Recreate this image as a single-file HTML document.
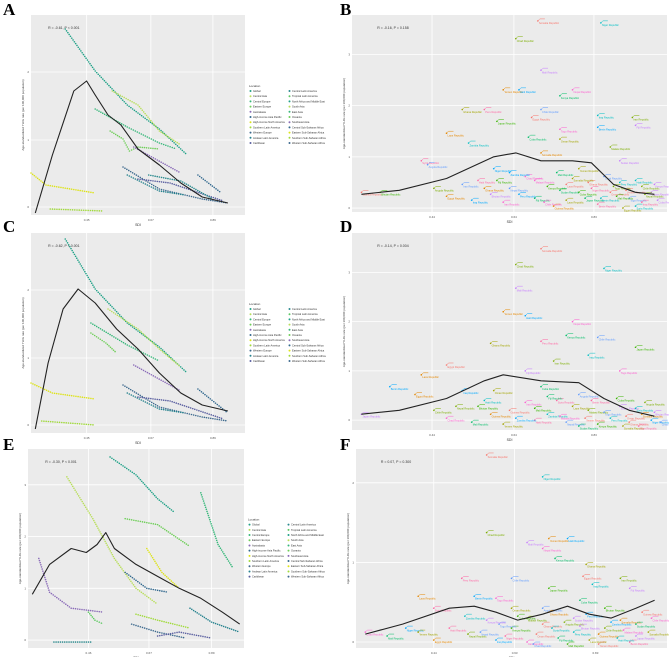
<!DOCTYPE html>
<html><head><meta charset="utf-8">
<style>
html,body{margin:0;padding:0;background:#fff;width:669px;height:657px;overflow:hidden}
svg{display:block;font-family:"Liberation Sans",sans-serif}
.pl{font-family:"Liberation Serif",serif;font-weight:bold;font-size:17px}
</style></head>
<body>
<svg id="fig" width="669" height="657" viewBox="0 0 669 657" xmlns="http://www.w3.org/2000/svg">
<text class="pl" x="3" y="15">A</text>
<text class="pl" x="340" y="15">B</text>
<text class="pl" x="3" y="232">C</text>
<text class="pl" x="340" y="232">D</text>
<text class="pl" x="3" y="450">E</text>
<text class="pl" x="340" y="450">F</text>
</svg>
<script>
// ---- data (x = SDI fraction of axis, y = rate fraction of axis) ----
const seriesA = [
 [[0.16,0.93],[0.3,0.72],[0.45,0.55],[0.6,0.43],[0.73,0.3]],
 [[0.38,0.62],[0.5,0.55],[0.6,0.42],[0.7,0.35]],
 [[0.3,0.53],[0.45,0.44],[0.6,0.36],[0.68,0.33]],
 [[0.37,0.42],[0.43,0.38],[0.46,0.32],[0.5,0.34],[0.6,0.33]],
 [[0.48,0.34],[0.7,0.21]],
 [[0.78,0.2],[0.89,0.11]],
 [[0.0,0.21],[0.07,0.15],[0.3,0.11]],
 [[0.09,0.03],[0.34,0.02]],
 [[0.43,0.24],[0.6,0.13],[0.8,0.08],[0.92,0.06]],
 [[0.45,0.2],[0.6,0.12],[0.72,0.1]],
 [[0.5,0.18],[0.65,0.16],[0.9,0.07]],
 [[0.55,0.2],[0.7,0.17],[0.85,0.08]]
];
const curveA = [[0.02,0.01],[0.1,0.3],[0.2,0.62],[0.26,0.67],[0.3,0.6],[0.36,0.5],[0.42,0.45],[0.5,0.33],[0.6,0.25],[0.7,0.16],[0.8,0.09],[0.92,0.06]];
const seriesC = [
 [[0.16,0.97],[0.3,0.72],[0.45,0.55],[0.6,0.43],[0.73,0.3]],
 [[0.36,0.62],[0.5,0.52],[0.6,0.42],[0.7,0.33]],
 [[0.28,0.55],[0.45,0.44],[0.6,0.36]],
 [[0.28,0.5],[0.35,0.45],[0.4,0.4]],
 [[0.48,0.34],[0.7,0.21]],
 [[0.78,0.22],[0.92,0.1]],
 [[0.0,0.25],[0.1,0.2],[0.3,0.17]],
 [[0.05,0.06],[0.3,0.04]],
 [[0.43,0.24],[0.6,0.13],[0.8,0.08],[0.92,0.06]],
 [[0.45,0.2],[0.6,0.12],[0.72,0.1]],
 [[0.5,0.18],[0.65,0.16],[0.9,0.07]]
];
const curveC = [[0.02,0.02],[0.08,0.35],[0.15,0.62],[0.22,0.72],[0.3,0.65],[0.4,0.52],[0.5,0.42],[0.6,0.3],[0.7,0.2],[0.8,0.14],[0.92,0.11]];
const seriesE = [
 [[0.38,0.96],[0.5,0.87],[0.6,0.75],[0.68,0.68]],
 [[0.18,0.86],[0.3,0.65],[0.4,0.45],[0.5,0.3],[0.6,0.22]],
 [[0.8,0.78],[0.88,0.52],[0.95,0.4]],
 [[0.45,0.65],[0.6,0.62],[0.75,0.51]],
 [[0.05,0.45],[0.1,0.28],[0.2,0.2],[0.35,0.18]],
 [[0.45,0.38],[0.55,0.3],[0.65,0.28]],
 [[0.55,0.5],[0.62,0.38],[0.7,0.3]],
 [[0.5,0.17],[0.6,0.14],[0.75,0.1]],
 [[0.48,0.12],[0.6,0.08],[0.73,0.05]],
 [[0.75,0.2],[0.85,0.13],[0.98,0.08]],
 [[0.6,0.06],[0.7,0.08],[0.85,0.05]],
 [[0.12,0.03],[0.3,0.03]],
 [[0.28,0.18],[0.31,0.14],[0.35,0.12]]
];
const curveE = [[0.02,0.27],[0.1,0.42],[0.2,0.5],[0.27,0.48],[0.32,0.52],[0.36,0.58],[0.4,0.5],[0.5,0.42],[0.6,0.36],[0.7,0.3],[0.8,0.25],[0.9,0.18],[0.98,0.12]];

const ptsB = [[0.59,0.97],[0.79,0.96],[0.52,0.88],[0.6,0.72],[0.48,0.62],[0.53,0.62],[0.7,0.62],[0.66,0.59],[0.35,0.52],[0.42,0.52],[0.6,0.52],[0.46,0.46],[0.57,0.48],[0.78,0.49],[0.89,0.48],[0.9,0.44],[0.3,0.4],[0.78,0.43],[0.66,0.42],[0.56,0.38],[0.66,0.37],[0.22,0.26],[0.24,0.24],[0.09,0.1],[0.03,0.1],[0.37,0.35],[0.82,0.33],[0.85,0.26],[0.6,0.3],[0.45,0.22],[0.55,0.18],[0.65,0.2],[0.72,0.22],[0.4,0.16],[0.5,0.12],[0.62,0.13],[0.75,0.15],[0.85,0.15],[0.92,0.13],[0.95,0.1],[0.3,0.08],[0.38,0.06],[0.48,0.05],[0.58,0.07],[0.68,0.06],[0.78,0.04],[0.88,0.07],[0.72,0.1],[0.82,0.1],[0.9,0.03],[0.26,0.12],[0.44,0.09],[0.64,0.03],
 [0.5,0.2],[0.58,0.16],[0.66,0.11],[0.7,0.17],[0.76,0.12],[0.8,0.18],[0.84,0.08],[0.87,0.11],[0.9,0.16],[0.93,0.09],[0.96,0.14],[0.42,0.12],[0.53,0.09],[0.61,0.05],[0.74,0.07],[0.86,0.02],[0.92,0.05],[0.35,0.14],[0.46,0.16],[0.68,0.14],[0.79,0.07],[0.83,0.13],[0.97,0.06]];
const curveB = [[0.03,0.09],[0.15,0.11],[0.3,0.17],[0.45,0.28],[0.52,0.3],[0.6,0.26],[0.7,0.26],[0.76,0.25],[0.83,0.14],[0.9,0.1],[0.96,0.09]];
const ptsD = [[0.6,0.92],[0.8,0.82],[0.52,0.84],[0.52,0.72],[0.48,0.6],[0.55,0.58],[0.7,0.55],[0.68,0.48],[0.44,0.44],[0.6,0.45],[0.78,0.47],[0.9,0.42],[0.3,0.33],[0.75,0.38],[0.64,0.35],[0.55,0.3],[0.22,0.28],[0.12,0.22],[0.85,0.3],[0.6,0.22],[0.45,0.2],[0.65,0.15],[0.72,0.18],[0.4,0.12],[0.5,0.1],[0.62,0.08],[0.75,0.1],[0.85,0.12],[0.92,0.08],[0.95,0.05],[0.3,0.06],[0.38,0.04],[0.48,0.03],[0.58,0.05],[0.68,0.04],[0.78,0.03],[0.88,0.04],[0.82,0.06],[0.26,0.1],[0.03,0.08],[0.2,0.18],[0.35,0.2],
 [0.55,0.14],[0.62,0.17],[0.7,0.12],[0.76,0.15],[0.8,0.09],[0.84,0.16],[0.87,0.07],[0.9,0.11],[0.93,0.14],[0.96,0.09],[0.44,0.08],[0.52,0.06],[0.66,0.07],[0.72,0.02],[0.86,0.02],[0.91,0.02],[0.98,0.04],[0.58,0.11],[0.74,0.06],[0.42,0.15],[0.33,0.12]];
const curveD = [[0.03,0.08],[0.15,0.1],[0.3,0.16],[0.42,0.25],[0.48,0.28],[0.6,0.25],[0.72,0.24],[0.8,0.16],[0.88,0.1],[0.96,0.07]];
const ptsF = [[0.42,0.97],[0.6,0.86],[0.42,0.58],[0.55,0.53],[0.62,0.55],[0.68,0.55],[0.6,0.5],[0.64,0.45],[0.74,0.42],[0.34,0.35],[0.5,0.35],[0.62,0.3],[0.73,0.36],[0.76,0.32],[0.85,0.35],[0.88,0.3],[0.2,0.26],[0.38,0.26],[0.45,0.25],[0.72,0.24],[0.5,0.2],[0.25,0.2],[0.6,0.2],[0.8,0.2],[0.92,0.18],[0.35,0.16],[0.55,0.15],[0.7,0.15],[0.85,0.14],[0.16,0.1],[0.03,0.08],[0.1,0.06],[0.2,0.08],[0.3,0.1],[0.4,0.08],[0.5,0.1],[0.6,0.12],[0.7,0.08],[0.8,0.1],[0.9,0.06],[0.25,0.04],[0.45,0.04],[0.55,0.03],[0.65,0.05],[0.75,0.04],[0.88,0.03],
 [0.46,0.12],[0.52,0.16],[0.58,0.07],[0.63,0.1],[0.67,0.13],[0.72,0.11],[0.78,0.07],[0.82,0.13],[0.86,0.09],[0.9,0.12],[0.94,0.08],[0.48,0.06],[0.57,0.02],[0.68,0.02],[0.78,0.02],[0.84,0.05],[0.36,0.07],[0.42,0.14],[0.62,0.18],[0.74,0.17],[0.95,0.15]];
const curveF = [[0.03,0.07],[0.15,0.12],[0.3,0.2],[0.38,0.21],[0.45,0.18],[0.52,0.14],[0.6,0.17],[0.68,0.21],[0.75,0.17],[0.82,0.15],[0.9,0.2],[0.96,0.24]];

const locLeft = ["Global","Central Asia","Central Europe","Eastern Europe","Australasia","High-income Asia Pacific","High-income North America","Southern Latin America","Western Europe","Andean Latin America","Caribbean"];
const locRight = ["Central Latin America","Tropical Latin America","North Africa and Middle East","South Asia","East Asia","Oceania","Southeast Asia","Central Sub-Saharan Africa","Eastern Sub-Saharan Africa","Southern Sub-Saharan Africa","Western Sub-Saharan Africa"];
const countryNames = ["Somalia","Niger","Chad","Mali","Yemen","Haiti","Nepal","Kenya","Ghana","Peru","Chile","Japan","Egypt","Iraq","Iran","Fiji","Laos","Benin","Togo","Cuba","Oman","Syria","Angola","Bhutan","Guinea","Zambia","Malawi","Sudan"];
const leftStats = {a:"R = -0.61, P < 0.001", c:"R = -0.62, P < 0.001", e:"R = -0.30, P < 0.001"};
const rightStats = {b:"R = -0.16, P = 0.158", d:"R = -0.14, P = 0.004", f:"R = 0.07, P = 0.300"};

const viridis = ["#1fa187","#b8de5a","#35b779","#6ece58","#8a6bb8","#31688e","#dde318","#a0da39","#3e6a8e","#26828e","#5a5fa0","#2a8a8e","#5ec962"];
const hue = ["#f8766d","#00bfc4","#7cae00","#c77cff","#e58700","#00a9ff","#fd61d1","#00be67","#a3a500","#ff67a4","#619cff","#39b600"];
const NS="http://www.w3.org/2000/svg";
const svg=document.getElementById('fig');
function mk(tag,attrs,parent){const e=document.createElementNS(NS,tag);for(const k in attrs)e.setAttribute(k,attrs[k]);(parent||svg).appendChild(e);return e;}

function frame(p,name){
  const g=mk('g',{});
  
  
  const bg=mk('rect',{x:p.x,y:p.y,width:p.w,height:p.h,fill:'#ebebeb'},g);
  
  
  const X=v=>p.x+v*p.w, Y=v=>p.y+(1-v)*p.h;
  p.xt.forEach(t=>{const l=mk('line',{x1:X(t),x2:X(t),y1:p.y,y2:p.y+p.h,stroke:'#fff','stroke-width':0.8},g);
    const tx=mk('text',{x:X(t),y:p.y+p.h+6,'font-size':3,'text-anchor':'middle',fill:'#555'},g);tx.textContent=(0.25+t*0.75).toFixed(2);});
  p.yt.forEach((t,i)=>{const l=mk('line',{x1:p.x,x2:p.x+p.w,y1:Y(t),y2:Y(t),stroke:'#fff','stroke-width':0.8},g);
    const tx=mk('text',{x:p.x-2,y:Y(t)+1,'font-size':3,'text-anchor':'end',fill:'#555'},g);tx.textContent=String(i);});
  const xl=mk('text',{x:p.x+p.w/2,y:p.y+p.h+11,'font-size':3.5,'text-anchor':'middle',fill:'#333'},g);xl.textContent='SDI';
  
  const yl=mk('text',{x:0,y:0,'font-size':3,'text-anchor':'middle',fill:'#333',transform:`translate(${p.x-7},${p.y+p.h/2}) rotate(-90)`},g);
  yl.textContent='Age-standardized YLDs rate (per 100,000 population)';
  
  const st=mk('text',{x:p.x+p.w*0.08,y:p.y+p.h*0.07,'font-size':3.5,fill:'#333'},g);st.textContent=p.stat;
  
  return {g,X,Y};
}
function curve(f,data){
  const d=data.map((q,i)=>(i?'L':'M')+f.X(q[0]).toFixed(1)+','+f.Y(q[1]).toFixed(1)).join(' ');
  const c=mk('path',{d,fill:'none',stroke:'#222','stroke-width':1.1,'stroke-linejoin':'round'},f.g);
  
  
}
function leftPanel(p,name,series,cv){
  const f=frame(p,name);
  series.forEach((s,i)=>{
    const col=viridis[i%viridis.length];
    for(let k=0;k<s.length-1;k++){
      const a=s[k],b=s[k+1];
      const n=Math.max(3,Math.round(Math.hypot((b[0]-a[0])*p.w,(b[1]-a[1])*p.h)/2.2));
      for(let j=0;j<n;j++){const t=j/n;
        const c=mk('circle',{cx:f.X(a[0]+(b[0]-a[0])*t),cy:f.Y(a[1]+(b[1]-a[1])*t),r:0.8,fill:col},f.g);
        
        }
    }
  });
  curve(f,cv);
  const lg=mk('g',{});
  
  
  const lx=p.x+p.w+4, ly=p.y+p.h*0.36;
  const tt=mk('text',{x:lx,y:ly,'font-size':3,fill:'#333'},lg);tt.textContent='Location';
  
  [locLeft,locRight].forEach((col,ci)=>col.forEach((nm,ri)=>{
    const yy=ly+4+ri*5.2, xx=lx+ci*39;
    const sw=mk('circle',{cx:xx+1.5,cy:yy,r:1,fill:viridis[(ci*11+ri)%viridis.length]},lg);
    
    const t=mk('text',{x:xx+4,y:yy+1,'font-size':2.6,fill:'#333'},lg);t.textContent=nm;
    
  }));
}
function rightPanel(p,name,pts,cv){
  const f=frame(p,name);
  pts.forEach((q,i)=>{
    const col=hue[i%hue.length];
    const px=f.X(q[0]),py=f.Y(q[1]);
    const ln=mk('polyline',{points:`${px},${py} ${px+2},${py-2} ${px+7},${py-2}`,fill:'none',stroke:col,'stroke-width':0.5},f.g);
    
    const c=mk('circle',{cx:px,cy:py,r:0.8,fill:col},f.g);
    
    const t=mk('text',{x:px+1,y:py+3.2,'font-size':2.6,fill:col},f.g);t.textContent=countryNames[i%countryNames.length]+' Republic';
    
  });
  curve(f,cv);
}
const lt=[0.26,0.56,0.85], ly3=[0.04,0.375,0.715];
leftPanel({x:31,y:15,w:214,h:200,xt:lt,yt:ly3,stat:leftStats.a},'panel-a',seriesA,curveA);
leftPanel({x:31,y:233,w:214,h:200,xt:lt,yt:ly3,stat:leftStats.c},'panel-c',seriesC,curveC);
leftPanel({x:28,y:449,w:216,h:199,xt:[0.28,0.56,0.85],yt:[0.04,0.3,0.56,0.82],stat:leftStats.e},'panel-e',seriesE,curveE);
const rt=[0.254,0.514,0.768];
rightPanel({x:352,y:15,w:315,h:197,xt:rt,yt:[0.02,0.28,0.54,0.8],stat:rightStats.b},'panel-b',ptsB,curveB);
rightPanel({x:352,y:233,w:315,h:197,xt:rt,yt:[0.05,0.3,0.55,0.8],stat:rightStats.d},'panel-d',ptsD,curveD);
rightPanel({x:356,y:449,w:311,h:199,xt:[0.25,0.51,0.77],yt:[0.03,0.43,0.83],stat:rightStats.f},'panel-f',ptsF,curveF);
</script>
</body></html>
